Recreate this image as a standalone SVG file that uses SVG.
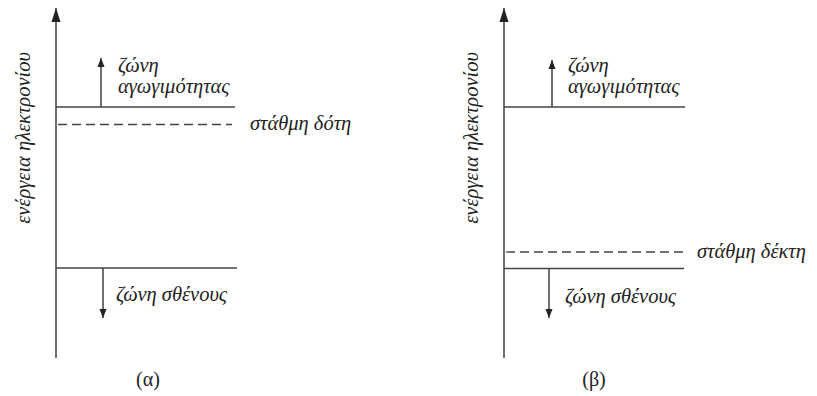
<svg xmlns="http://www.w3.org/2000/svg" width="817" height="396" viewBox="0 0 817 396">
<defs>
<marker id="ah" markerWidth="10" markerHeight="10" refX="9" refY="5" orient="auto" markerUnits="userSpaceOnUse">
<path d="M0,1.5 L9,5 L0,8.5 Z" fill="#222"/>
</marker>
<marker id="big" markerWidth="16" markerHeight="10" refX="14" refY="5" orient="auto" markerUnits="userSpaceOnUse">
<path d="M0,0.5 L14,5 L0,9.5 Z" fill="#222"/>
</marker>
</defs>
<style>
.ax{stroke:#333;stroke-width:1.4;fill:none}
.lv{stroke:#444;stroke-width:1.3;fill:none}
.ds{stroke:#444;stroke-width:1.3;fill:none;stroke-dasharray:9 5}
.ar{stroke:#222;stroke-width:1.3;fill:none}
.t{font-family:"Liberation Serif","DejaVu Serif",serif;font-style:italic;font-size:20.5px;fill:#222}
.c{font-family:"Liberation Serif","DejaVu Serif",serif;font-size:20px;fill:#222}
</style>
<rect width="817" height="396" fill="#fff"/>
<g id="connectors">
<line class="ax" x1="56" y1="358" x2="56" y2="8" marker-end="url(#big)"/>
<line class="ax" x1="504" y1="358" x2="504" y2="8" marker-end="url(#big)"/>
<line class="ar" x1="101" y1="107" x2="101" y2="58" marker-end="url(#ah)"/>
<line class="ar" x1="103" y1="268" x2="103" y2="318" marker-end="url(#ah)"/>
<line class="ar" x1="552" y1="107" x2="552" y2="60" marker-end="url(#ah)"/>
<line class="ar" x1="549" y1="268" x2="549" y2="318" marker-end="url(#ah)"/>
</g>
<g id="panel-a">
<g id="a-axis-label"><text class="t" transform="translate(30,138) rotate(-90)" text-anchor="middle">ενέργεια ηλεκτρονίου</text></g>
<g id="a-conduction">
<line class="lv" x1="56" y1="107" x2="235" y2="107"/>
<text class="t" x="118" y="72">ζώνη</text>
<text class="t" x="118" y="93">αγωγιμότητας</text>
</g>
<g id="a-donor">
<line class="ds" x1="58" y1="124.5" x2="232" y2="124.5"/>
<text class="t" x="250" y="130">στάθμη δότη</text>
</g>
<g id="a-valence">
<line class="lv" x1="56" y1="268" x2="237" y2="268"/>
<text class="t" x="116" y="301">ζώνη σθένους</text>
</g>
<text class="c" x="148" y="386" text-anchor="middle">(α)</text>
</g>
<g id="panel-b">
<g id="b-axis-label"><text class="t" transform="translate(478,138) rotate(-90)" text-anchor="middle">ενέργεια ηλεκτρονίου</text></g>
<g id="b-conduction">
<line class="lv" x1="504" y1="107" x2="685" y2="107"/>
<text class="t" x="568" y="72">ζώνη</text>
<text class="t" x="568" y="93">αγωγιμότητας</text>
</g>
<g id="b-acceptor">
<line class="ds" x1="506" y1="252" x2="683" y2="252"/>
<text class="t" x="697" y="258">στάθμη δέκτη</text>
</g>
<g id="b-valence">
<line class="lv" x1="504" y1="268.5" x2="684" y2="268.5"/>
<text class="t" x="565" y="303">ζώνη σθένους</text>
</g>
<text class="c" x="594" y="386" text-anchor="middle">(β)</text>
</g>
</svg>
